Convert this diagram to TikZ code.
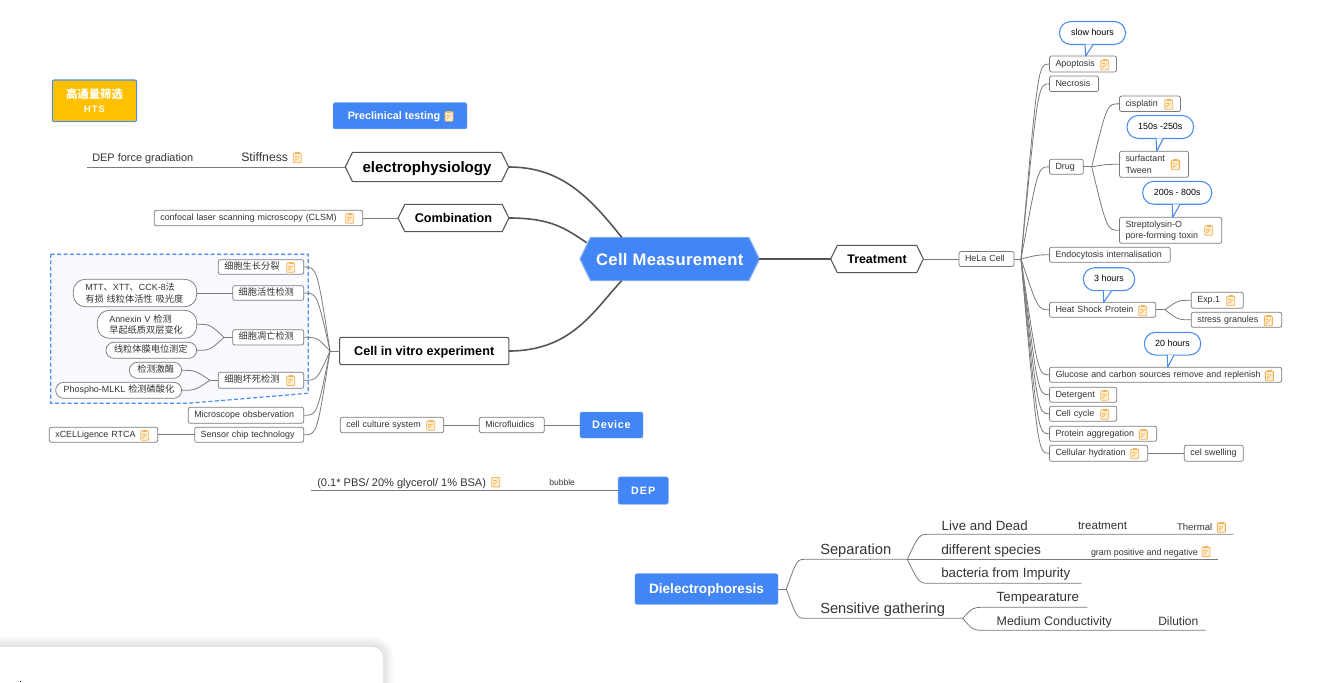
\documentclass[tikz,border=0pt]{standalone}
\usepackage{fontspec}
\setmainfont{Liberation Sans}
\newfontfamily\cjk[Scale=1.03]{Noto Sans CJK SC}
\usetikzlibrary{shapes.symbols}
\definecolor{mapblue}{HTML}{4285F4}
\definecolor{hexedge}{HTML}{7FABF6}
\definecolor{notelineblue}{HTML}{4A8CF0}
\definecolor{areafill}{HTML}{F8FAFF}
\definecolor{linegray}{HTML}{7A7A7A}
\definecolor{branchgray}{HTML}{555555}
\definecolor{textgray}{HTML}{333333}
\definecolor{noteorange}{HTML}{F5B358}
\definecolor{notefill}{HTML}{FFF0D4}
\definecolor{htsgold}{HTML}{FFC000}
\newcommand{\fs}[1]{\fontsize{#1}{#1}\selectfont}
\tikzset{
  wide/.code={\pgfmathsetlengthmacro\boxw{#1*0.75pt}\pgfmathsetlengthmacro\boxt{(#1-12)*0.75pt}\tikzset{minimum width=\boxw, text width=\boxt}},
  high/.code={\pgfmathsetlengthmacro\boxh{#1*0.75pt}\tikzset{minimum height=\boxh}},
  topicbox/.style={draw=linegray, line width=0.55pt, rounded corners=1.5pt, fill=white, anchor=west, align=left,
    inner xsep=4.5pt, inner ysep=0pt, outer sep=0pt, text=textgray, font=\fontsize{6.7}{8.3}\selectfont,
    text height=5pt, text depth=1.5pt},
  twoline/.style={text height=, text depth=},
  pillbox/.style={topicbox, rounded corners=#1},
  hexbox/.style={shape=signal, signal to=east and west, signal pointer angle=128, draw=branchgray, line width=0.8pt,
    fill=white, text=black, inner sep=0pt, outer sep=0pt, text depth=0pt, font=\bfseries},
  bluebox/.style={fill=mapblue, draw=hexedge, line width=0.3pt, rounded corners=1.5pt, text=white, font=\bfseries,
    inner sep=0pt, outer sep=0pt},
  calloutbox/.style={draw=notelineblue, line width=0.8pt, fill=white, rounded corners=8.4pt, text=black,
    inner sep=0pt, outer sep=0pt, text height=5pt, text depth=1.5pt, font=\fontsize{6.7}{8}\selectfont},
  plaintext/.style={anchor=west, inner sep=0pt, outer sep=0pt, text=textgray, text depth=0pt},
  thinline/.style={draw=linegray, line width=0.6pt},
  branchline/.style={draw=branchgray, line width=1.2pt},
  noteicon/.pic={
    \draw[noteorange, fill=notefill, line width=0.65pt, rounded corners=0.6pt] (-4,-4.2) rectangle (4,5.2);
    \fill[noteorange] (-2.2,-5.2) rectangle (2.2,-3.3);
    \draw[noteorange, line width=0.45pt] (-1.8,3.2) -- (2,-1.2) (-1.8,3.2) -- (-2,1.2);
    \draw[noteorange, line width=0.35pt] (-2.6,-1) -- (0,-1);
  }
}

\begin{document}
\begin{tikzpicture}[x=0.75pt, y=-0.75pt]
\useasboundingbox (0,0) rectangle (1334,682);

%panel in the corner
\foreach \s in {1,...,10} \draw[black, opacity=0.012, line width=\s*1.6pt, rounded corners=8pt] (-30,647) rectangle (383,720);
\fill[white, rounded corners=8pt] (-30,647) rectangle (383,720);
\draw[black, line width=0.7pt] (20,680.5)--(20,682);

%dashed area
\draw[notelineblue, fill=areafill, dash pattern=on 3pt off 1.8pt, line width=0.9pt] (50.7,254.3)--(308.3,254.3)--(308.3,393.3)--(188,403.3)--(50.7,403.3)--cycle;

%main nodes
\node[hexbox, fill=mapblue, draw=hexedge, text=white, minimum width=134.5pt, minimum height=32.5pt, font=\bfseries\fs{12.5}] (cell) at (669.7,259) {\addfontfeature{LetterSpace=2}Cell Measurement};
\node[hexbox, minimum width=122.5pt, minimum height=22pt, font=\bfseries\fs{11.3}] (electro) at (427,167) {electrophysiology};
\node[hexbox, minimum width=83pt, minimum height=20.5pt, font=\bfseries\fs{9.5}] (combi) at (453.5,218) {Combination};
\node[hexbox, minimum width=69.5pt, minimum height=20.5pt, font=\bfseries\fs{9.3}] (treat) at (877,259) {Treatment};
\node[draw=branchgray, line width=0.8pt, rounded corners=1.5pt, fill=white, minimum width=127pt, minimum height=20.5pt, inner sep=0pt, outer sep=0pt, text depth=0pt, font=\bfseries\fs{9.5}] (vitro) at (424.2,351) {Cell in vitro experiment};

%blue and gold boxes
\node[bluebox, fill=htsgold, draw=notelineblue, line width=0.8pt, minimum width=63.3pt, minimum height=31.2pt, align=center, font=\bfseries\fontsize{7}{10.5}\selectfont] (hts) at (94.5,100.8) {{\cjk\fontsize{8.3}{10.5}\selectfont 高通量筛选}\\\addfontfeature{LetterSpace=12}HTS};
\node[bluebox, minimum width=100.5pt, minimum height=19.7pt, text depth=0pt, font=\bfseries\fs{8.1}] (preclin) at (400,115.8) {\hspace*{-9pt}Preclinical testing};
\node[bluebox, minimum width=47.3pt, minimum height=19.5pt, text depth=0pt, font=\bfseries\fs{8.2}] (device) at (611.5,425) {\addfontfeature{LetterSpace=6}Device};
\node[bluebox, minimum width=37.7pt, minimum height=20.5pt, text depth=0pt, font=\bfseries\fs{8}] (dep) at (643.2,490.6) {\addfontfeature{LetterSpace=10}DEP};
\node[bluebox, minimum width=107.3pt, minimum height=23pt, text depth=0pt, font=\bfseries\fs{10.2}] (dielec) at (706.5,589) {Dielectrophoresis};

%left side
\node[plaintext, font=\fs{8.2}] (depforce) at (92.3,158) {DEP force gradiation};
\node[plaintext, font=\fs{9.2}] (stiff) at (241.3,157.5) {Stiffness};
\coordinate (depend) at (86.7,167);
\node[topicbox, wide=208.4, high=15.4] (clsm) at (154.3,218) {confocal laser scanning microscopy (CLSM)};

\node[topicbox, wide=85.4, high=14.6] (growth) at (218.3,267) {\cjk 细胞生长分裂};
\node[topicbox, wide=71, high=14.6] (active) at (232.7,293) {\cjk 细胞活性检测};
\node[topicbox, wide=71, high=15.3] (apop) at (232.7,337.3) {\cjk 细胞凋亡检测};
\node[topicbox, wide=85.4, high=16] (necro) at (218.3,380.3) {\cjk 细胞坏死检测};
\node[topicbox, wide=115.4, high=16] (micro) at (188.3,415.3) {Microscope obsbervation};
\node[topicbox, wide=109, high=15] (sensor) at (194.7,434.8) {Sensor chip technology};
\node[topicbox, wide=108.4, high=15] (xcel) at (49.3,434.8) {xCELLigence RTCA};

\node[pillbox=9pt, twoline, wide=123.4, high=27.4] (mtt) at (73.3,293) {\hspace*{4.5pt}MTT{\cjk 、}XTT{\cjk 、}CCK-8{\cjk 法}\\\hspace*{4.5pt}{\cjk 有损 线粒体活性 吸光度}};
\node[pillbox=9pt, twoline, wide=99.4, high=28] (annex) at (97.3,324.3) {\hspace*{4.5pt}Annexin V {\cjk 检测}\\\hspace*{4.5pt}{\cjk 早起纸质双层变化}};
\node[pillbox=6pt, wide=90.7, high=16] (mito) at (106,350.3) {\hspace*{1.5pt}{\cjk 线粒体膜电位测定}};
\node[pillbox=6pt, wide=52.4, high=16] (kinase) at (129.3,370.3) {\hspace*{1.5pt}{\cjk 检测激酶}};
\node[pillbox=6pt, wide=126, high=16] (mlkl) at (55.7,390.3) {\hspace*{1.5pt}Phospho-MLKL {\cjk 检测磷酸化}};

%device and DEP
\node[topicbox, wide=103.4, high=15.4] (culture) at (340.3,425) {cell culture system};
\node[topicbox, wide=65, high=15.4] (fluid) at (479.3,425) {Microfluidics};
\node[plaintext, font=\fs{8.28}] (pbs) at (317.3,482) {(0.1* PBS/ 20\% glycerol/ 1\% BSA)};
\node[plaintext, font=\fs{6.4}] (bubble) at (549.3,482.5) {bubble};
\coordinate (depend2) at (311.3,490.6);

%treatment side
\node[topicbox, wide=55, high=15] (hela) at (959,259) {HeLa Cell};
\node[topicbox, wide=67, high=16] (apopto) at (1049.5,64) {Apoptosis};
\node[topicbox, wide=49, high=15.5] (necrosis) at (1049.5,83.8) {Necrosis};
\node[topicbox, wide=33.8, high=15] (drug) at (1049.5,166.8) {Drug};
\node[topicbox, wide=61, high=15.5] (cispl) at (1119.5,103.8) {cisplatin};
\node[topicbox, twoline, wide=69, high=26] (surf) at (1119.5,164.3) {surfactant\\Tween};
\node[topicbox, twoline, wide=102.2, high=26] (strepto) at (1119.5,230.3) {Streptolysin-O\\pore-forming toxin};
\node[topicbox, wide=120.8, high=15] (endo) at (1049.5,254.8) {Endocytosis internalisation};
\node[topicbox, wide=106.2, high=15] (heat) at (1049.5,309.8) {Heat Shock Protein};
\node[topicbox, wide=52, high=16] (exp) at (1191.3,300.3) {Exp.1};
\node[topicbox, wide=90.4, high=15] (stress) at (1191.3,319.8) {stress granules};
\node[topicbox, wide=232.2, high=15] (glucose) at (1049.5,374.8) {Glucose and carbon sources remove and replenish};
\node[topicbox, wide=67.2, high=15] (deter) at (1049.5,394.8) {Detergent};
\node[topicbox, wide=67.2, high=15] (cycle) at (1049.5,413.8) {Cell cycle};
\node[topicbox, wide=107.2, high=15] (aggr) at (1049.5,433.8) {Protein aggregation};
\node[topicbox, wide=98.2, high=16] (hydra) at (1049.5,453.3) {Cellular hydration};
\node[topicbox, wide=59, high=16] (swell) at (1184.3,453.3) {cel swelling};

%callouts
\node[calloutbox, minimum width=49.5pt, minimum height=17.2pt] (slow) at (1092.5,33) {slow hours};
\node[calloutbox, minimum width=49.9pt, minimum height=17.2pt] (n150) at (1160.3,127) {150s -250s};
\node[calloutbox, minimum width=51.8pt, minimum height=17.2pt] (n200) at (1177.2,192.8) {200s - 800s};
\node[calloutbox, minimum width=38.5pt, minimum height=17.2pt] (n3) at (1109,279.2) {3 hours};
\node[calloutbox, minimum width=42.3pt, minimum height=17pt] (n20) at (1172.5,343.7) {20 hours};
\foreach \a/\b/\y/\tx/\ty in {1085/1093.3/44.3/1085.7/56, 1156/1163.3/138.3/1156.7/151.3, 1172.3/1180/204.3/1172.7/217.3, 1103.3/1111.7/290.7/1103.7/302.3, 1167.3/1174/355/1167.7/367.3}
{
\fill[white] (\a,\y)--(\tx,\ty)--(\b,\y)--cycle;
\draw[notelineblue, line width=0.8pt, line join=round] (\a,\y)--(\tx,\ty)--(\b,\y);
}

%underlined topics
\node[plaintext, font=\fs{11}] (separ) at (820.3,549) {Separation};
\node[plaintext, font=\fs{11}] (sensi) at (820.3,608.3) {Sensitive gathering};
\node[plaintext, font=\fs{10}] (live) at (941.7,525.3) {Live and Dead};
\node[plaintext, font=\fs{8.7}] (treatm) at (1078,525.7) {treatment};
\node[plaintext, font=\fs{7.2}] (thermal) at (1177,526.7) {Thermal};
\node[plaintext, font=\fs{10.3}] (species) at (941.3,549.3) {different species};
\node[plaintext, font=\fs{6.7}] (gram) at (1091,552.3) {gram positive and negative};
\node[plaintext, font=\fs{10}] (bact) at (941.3,573) {bacteria from Impurity};
\node[plaintext, font=\fs{10}] (tempe) at (996.7,597.3) {Tempearature};
\node[plaintext, font=\fs{9.3}] (medium) at (996.7,621.3) {Medium Conductivity};
\node[plaintext, font=\fs{9}] (dilu) at (1158.3,621.3) {Dilution};

%icons
\foreach \x/\y in {449/116, 297.3/157.5, 349.7/218, 290.7/267, 290.7/380.3, 144.7/435, 430.7/425, 495.7/481.7,
1104.7/64.5, 1168.7/104, 1175.3/164.5, 1208.7/230, 1142.7/310.5, 1230.7/300.5, 1268.3/320.5, 1269.3/375.5,
1104.7/395, 1104.7/414, 1143.3/434, 1134.7/453.5, 1221.3/527, 1206/551.3}
\pic at (\x,\y) {noteicon};

%branches
\coordinate (cellnw) at (621.7,237.3);
\coordinate (cellw) at (586.7,242.7);
\coordinate (cellsw) at (621.7,280.7);
\draw[branchline] (electro.east)..controls (560,167) and (588,195)..(cellnw);
\draw[branchline] (combi.east)..controls (552,218) and (566,229)..(cellw);
\draw[branchline] (vitro.east)..controls (572,351) and (594,310)..(cellsw);
\draw[branchline] (cell.east)--(treat.west);

%thin connectors on the left
\draw[thinline] (electro.west)--(depend);
\draw[thinline] (combi.west)--(clsm.east);
\coordinate (vitrohub) at (330,351);
\coordinate (vitroctl) at (317,351);
\draw[thinline] (vitro.west)--(vitrohub);
\foreach \k in {growth,active,apop,necro,micro,sensor}
\draw[thinline] (vitrohub)..controls (vitroctl |- \k.east)..(\k.east);
\draw[thinline] (active.west)--(mtt.east);
\coordinate (apophub) at (224,337.3);
\coordinate (apopctl) at (210,0);
\draw[thinline] (apop.west)--(apophub);
\foreach \k in {annex,mito}
\draw[thinline] (apophub)..controls (apopctl |- \k.east)..(\k.east);
\coordinate (necrohub) at (210,380.3);
\coordinate (necroctl) at (195,0);
\draw[thinline] (necro.west)--(necrohub);
\foreach \k in {kinase,mlkl}
\draw[thinline] (necrohub)..controls (necroctl |- \k.east)..(\k.east);
\draw[thinline] (sensor.west)--(xcel.east);

%device lines
\draw[thinline] (device.west)--(fluid.east);
\draw[thinline] (fluid.west)--(culture.east);
\draw[thinline] (dep.west)--(depend2);

%treatment lines
\draw[thinline] (treat.east)--(hela.west);
\coordinate (helahub) at (1021,259);
\coordinate (helactl) at (1038,0);
\draw[thinline] (hela.east)--(helahub);
\foreach \k in {apopto,necrosis,drug,endo,heat,glucose,deter,cycle,aggr,hydra}
\draw[thinline] (helahub)..controls (helactl |- \k.west)..(\k.west);
\coordinate (drughub) at (1091.7,166.8);
\coordinate (drugctl) at (1107,0);
\draw[thinline] (drug.east)--(drughub);
\foreach \k in {cispl,surf,strepto}
\draw[thinline] (drughub)..controls (drugctl |- \k.west)..(\k.west);
\coordinate (heathub) at (1165,309.8);
\coordinate (heatctl) at (1178,0);
\draw[thinline] (heat.east)--(heathub);
\foreach \k in {exp,stress}
\draw[thinline] (heathub)..controls (heatctl |- \k.west)..(\k.west);
\draw[thinline] (hydra.east)--(swell.west);

%dielectrophoresis lines
\coordinate (dielhub) at (786.3,589);
\coordinate (separhub) at (907.3,559.3);
\coordinate (sensihub) at (962.7,618.3);
\coordinate (separst) at (806,559.3);
\coordinate (sensist) at (806,618.3);
\draw[thinline] (dielec.east)--(dielhub);
\draw[thinline] (dielhub)..controls (797,559.3)..(separst)--(separhub);
\draw[thinline] (dielhub)..controls (797,618.3)..(sensist)--(sensihub);
\draw[thinline] (separhub)..controls (919,534.3)..(930,534.3)--(1233.3,534.3);
\draw[thinline] (separhub)--(1218.3,559.3);
\draw[thinline] (separhub)..controls (919,583.3)..(930,583.3)--(1081.7,583.3);
\draw[thinline] (sensihub)..controls (973,607.3)..(984,607.3)--(1087.3,607.3);
\draw[thinline] (sensihub)..controls (973,630.3)..(984,630.3)--(1205.7,630.3);

\end{tikzpicture}
\end{document}
